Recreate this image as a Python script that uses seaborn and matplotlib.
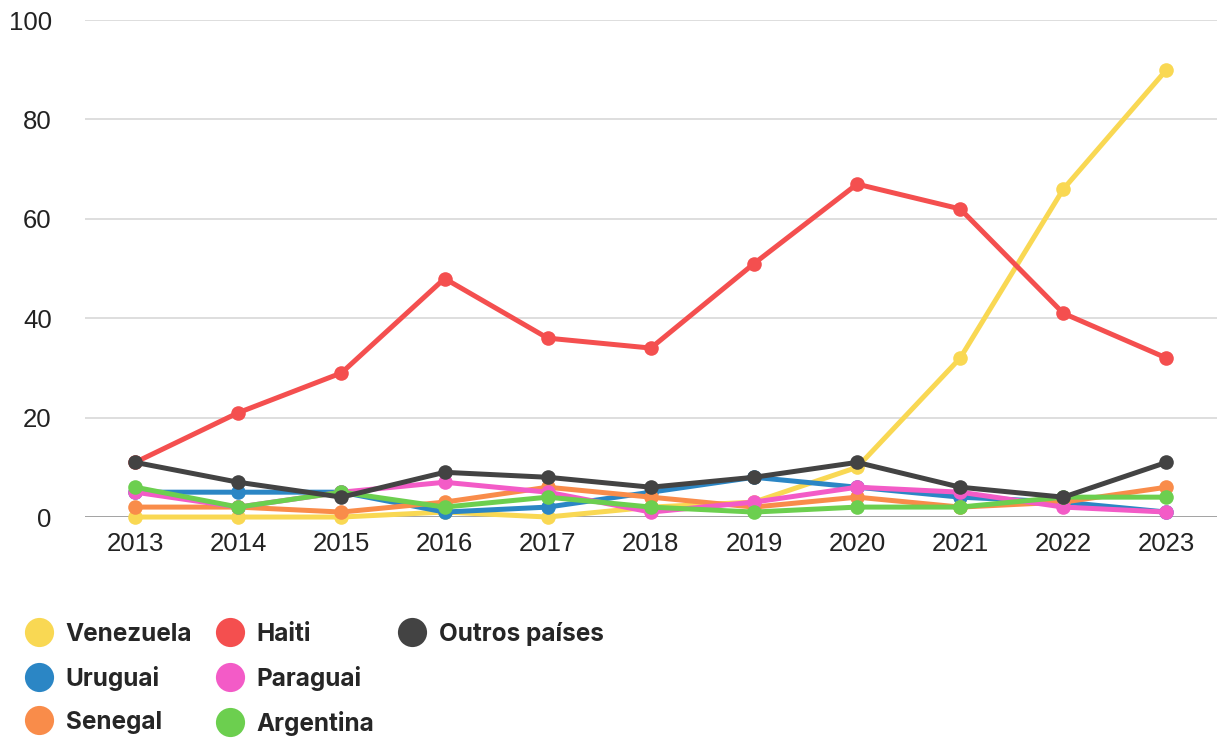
import pandas as pd
import numpy as np
import matplotlib
matplotlib.use('Agg')
import matplotlib.pyplot as plt
import seaborn as sns
from matplotlib.lines import Line2D

# dados por país (2013-2023)
years = [2013, 2014, 2015, 2016, 2017, 2018, 2019, 2020, 2021, 2022, 2023]
venezuela = [0, 0, 0, 1, 0, 2, 3, 10, 32, 66, 90]
uruguai = [5, 5, 5, 1, 2, 5, 8, 6, 4, 3, 1]
senegal = [2, 2, 1, 3, 6, 4, 2, 4, 2, 3, 6]
haiti = [11, 21, 29, 48, 36, 34, 51, 67, 62, 41, 32]
paraguai = [5, 2, 5, 7, 5, 1, 3, 6, 5, 2, 1]
argentina = [6, 2, 5, 2, 4, 2, 1, 2, 2, 4, 4]
outros = [11, 7, 4, 9, 8, 6, 8, 11, 6, 4, 11]

countries = ['Venezuela', 'Uruguai', 'Senegal', 'Haiti', 'Paraguai', 'Argentina', 'Outros países']
series = [venezuela, uruguai, senegal, haiti, paraguai, argentina, outros]
colors = ['#f9d853', '#2b86c5', '#f98c4a', '#f44f4f', '#f35bc7', '#6ccf4f', '#434343']
yticks = [0, 20, 40, 60, 80, 100]

rows = []
for name, vals in zip(countries, series):
    for y, v in zip(years, vals):
        rows.append({'ano': y, 'valor': v, 'pais': name})
df = pd.DataFrame(rows)

sns.set_style('white')
plt.rcParams['font.family'] = ['Liberation Sans', 'DejaVu Sans']

fig = plt.figure(figsize=(12.17, 7.45), dpi=100)
ax = fig.add_axes([0.07, 0.306, 0.93, 0.667])

palette = dict(zip(countries, colors))
sns.lineplot(data=df, x='ano', y='valor', hue='pais', hue_order=countries,
             palette=palette, marker='o', markersize=10.5, markeredgewidth=0,
             linewidth=3.6, ax=ax, legend=False, zorder=3)
for line in ax.lines:
    line.set_clip_on(False)

ax.set_xlim(2012.515, 2023.49)
ax.set_ylim(0, 100)
ax.set_xticks(years)
ax.set_yticks(yticks)
ax.tick_params(axis='both', length=0, labelsize=18.5, colors='#222222')
ax.tick_params(axis='x', pad=11)
ax.tick_params(axis='y', pad=24)
ax.set_xlabel('')
ax.set_ylabel('')
for y in yticks:
    ax.axhline(y, color='#d4d4d4' if y > 0 else '#8a8a8a', linewidth=1.1, zorder=1)
for s in ax.spines.values():
    s.set_visible(False)

# legenda em 3 colunas (3, 3, 1) com entradas vazias
handles = [Line2D([], [], linestyle='none', marker='o', markersize=21,
                  markerfacecolor=c, markeredgewidth=0) for c in colors]
blank = Line2D([], [], linestyle='none')
labels = countries + ['', '']
handles = handles + [blank, blank]
fig.legend(handles, labels, loc='upper left', bbox_to_anchor=(-0.002, 0.195),
           ncol=3, frameon=False, handletextpad=0.3, columnspacing=0.75,
           labelspacing=0.83, handlelength=1.6,
           prop={'family': 'Inter', 'weight': 'bold', 'size': 17.5})

plt.savefig('out.png', dpi=100)
